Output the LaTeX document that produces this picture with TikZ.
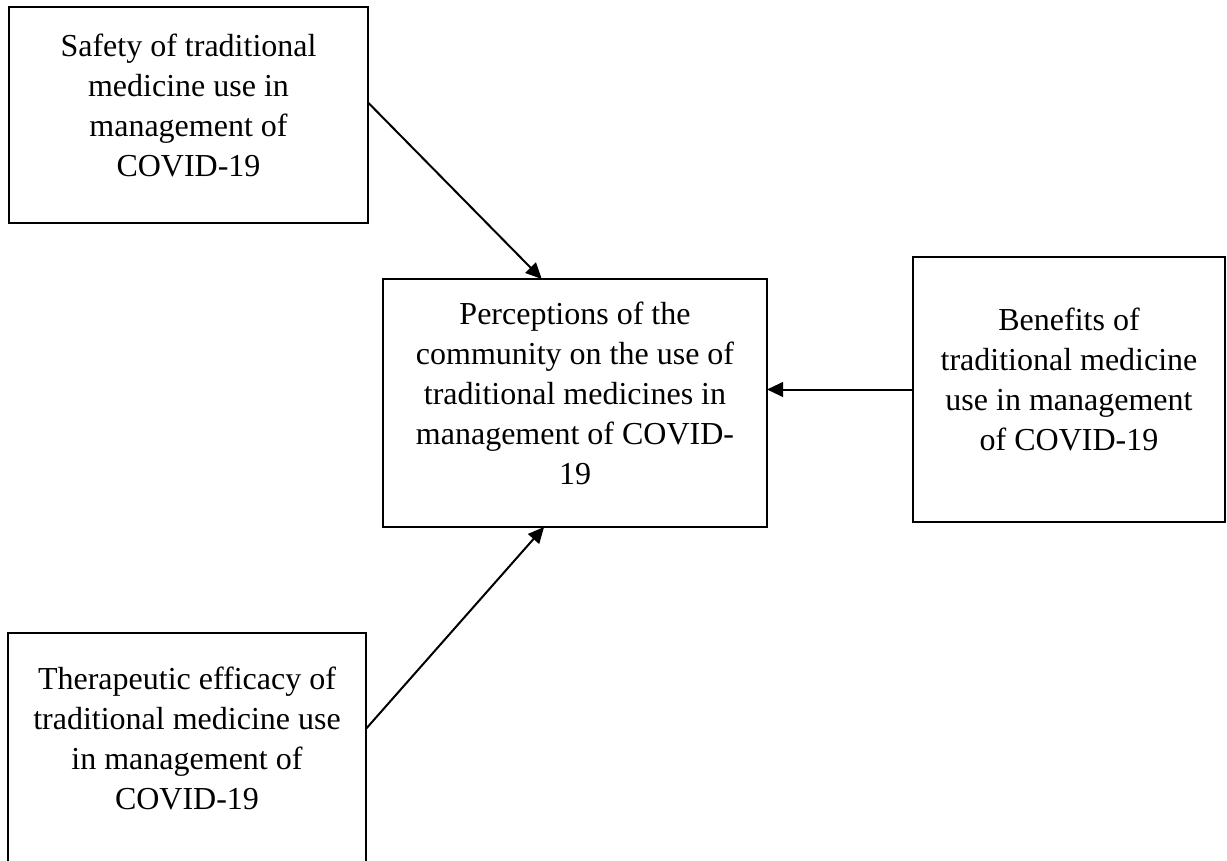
\documentclass[tikz,border=0pt]{standalone}
\usepackage{fontspec}
\setmainfont{Liberation Serif}
\usetikzlibrary{positioning,arrows.meta}

\tikzset{
  frame/.style={draw,line width=1pt,inner sep=0pt,outer sep=0pt},
  boxtext/.style={align=center,inner sep=0pt,font=\fontsize{12}{15}\selectfont},
  link/.style={line width=0.75pt,-{Triangle[length=6pt,width=5.5pt]}}
}

\begin{document}
\begin{tikzpicture}[x=0.375pt,y=-0.375pt]
    \useasboundingbox (0,0) rectangle (1227,861);

    % Boxes
    \node[frame,minimum width=134.6pt,minimum height=81pt]   (safety)   at (188.5,115) {};
    \node[frame,minimum width=144pt,minimum height=93pt]     (percept)  at (575,403)   {};
    \node[frame,minimum width=117pt,minimum height=99.4pt]   (benefits) at (1069,389.5) {};
    \node[frame,minimum width=134.25pt,minimum height=90.75pt] (efficacy) at (187,754) {};

    % Box texts
    \node[boxtext,below=9.75pt of safety.north] (safetytxt)
      {Safety of traditional\\medicine use in\\management of\\COVID-19};
    \node[boxtext,below=8.25pt of percept.north] (percepttxt)
      {Perceptions of the\\community on the use of\\traditional medicines in\\management of COVID-\\19};
    \node[boxtext,below=19.1pt of benefits.north] (benefitstxt)
      {Benefits of\\traditional medicine\\use in management\\of COVID-19};
    \node[boxtext,below=12.4pt of efficacy.north] (efficacytxt)
      {Therapeutic efficacy of\\traditional medicine use\\in management of\\COVID-19};

    % Links into the centre box
    \draw[link] (safety.4) -- (percept.105);
    \draw[link] (benefits.west) -- (percept.east |- benefits.west);
    \draw[link] (efficacy.8) -- (percept.256);
\end{tikzpicture}
\end{document}
